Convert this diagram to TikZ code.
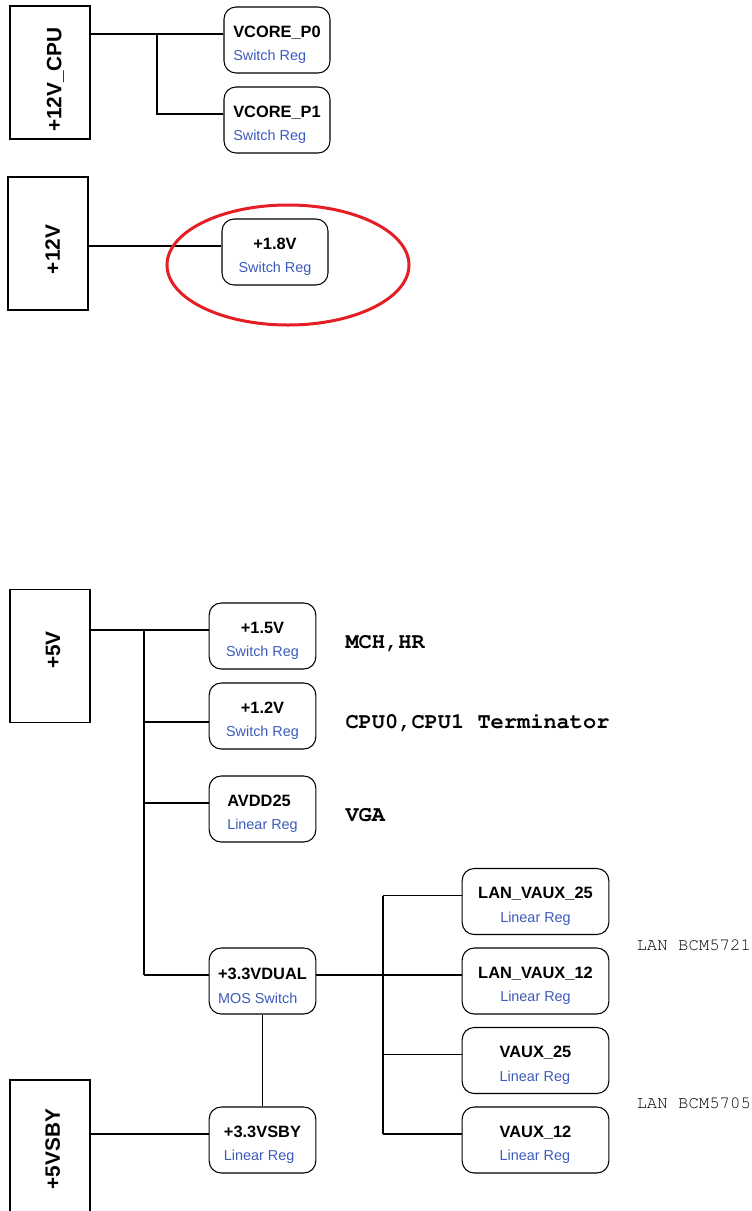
\documentclass[tikz,border=0pt]{standalone}
\usepackage[T1]{fontenc}
\usepackage{fontspec}
\setmainfont{Liberation Sans}
\usepackage{tikz}
\usepackage{xcolor}
\definecolor{regblue}{RGB}{60,90,185}
\definecolor{markred}{RGB}{228,30,36}
\newcommand{\regkind}[1]{{\color{regblue}\mdseries\fontsize{10.8}{12}\selectfont #1}}
\newcommand{\courier}{\fontencoding{T1}\fontfamily{pcr}\selectfont}

\begin{document}
\begin{tikzpicture}[x=0.75pt, y=-0.75pt, line width=0.8pt,
	power/.style={draw, minimum width=60pt, minimum height=99.75pt, inner sep=0pt},
	powerlabel/.style={rotate=90, inner sep=0pt, text depth=0pt, font=\fontsize{15.6}{18}\selectfont\bfseries},
	reg/.style={draw, rounded corners=9pt, minimum width=80pt, minimum height=49.5pt, inner sep=0pt, align=center, font=\fontsize{12.3}{17.5}\selectfont\bfseries},
	lanreg/.style={reg, minimum width=110pt},
	note/.style={anchor=west, inner sep=0pt, font=\fontsize{16.5}{18}\courier\bfseries},
	chip/.style={anchor=west, inner sep=0pt, font=\fontsize{13}{15}\courier}]
	\useasboundingbox (0,0) rectangle (751,1211);

	% +12V_CPU
	\node[power] (p12cpu) at (50,72.5) {};
	\node[powerlabel] (l12cpu) at (54,79.5) {+12V\_CPU};
	\node[reg, minimum width=79.5pt, align=left] (vcore0) at (277,40) {\rule{0pt}{15.6pt}VCORE\_P0\\\regkind{Switch Reg}};
	\node[reg, minimum width=79.5pt, align=left] (vcore1) at (277,120) {\rule{0pt}{15.6pt}VCORE\_P1\\\regkind{Switch Reg}};
	\coordinate (jcpu) at (157,0);
	\coordinate (t0) at ([yshift=4.5pt]vcore0.west);
	\coordinate (t1) at ([yshift=4.5pt]vcore1.west);
	\draw (p12cpu.east |- t0) -- (t0);
	\draw (t0 -| jcpu) |- (t1);

	% +12V
	\node[power] (p12) at (48,243.5) {};
	\node[powerlabel] (l12) at (52.5,249.5) {+12V};
	\node[reg, minimum width=79.5pt] (reg18) at (275,252) {\rule{0pt}{15.6pt}+1.8V\\\regkind{Switch Reg}};
	\coordinate (t2) at ([yshift=4.5pt]reg18.west);
	\draw (p12.east |- t2) -- (t2);
	\draw[markred, line width=2.25pt] (288,265) ellipse [x radius=90.75pt, y radius=45pt];

	% +5V
	\node[power] (p5) at (50,656) {};
	\node[powerlabel] (l5) at (53,650) {+5V};
	\node[reg] (reg15) at (262.5,636) {\rule{0pt}{15.6pt}+1.5V\\\regkind{Switch Reg}};
	\node[reg] (reg12) at (262.5,716) {\rule{0pt}{15.6pt}+1.2V\\\regkind{Switch Reg}};
	\node[reg, align=left] (avdd) at (262.5,809) {\rule{0pt}{15.6pt}AVDD25\\\regkind{Linear Reg}};
	\node[reg, align=left] (dual) at (262.5,981) {\rule{0pt}{15.6pt}+3.3VDUAL\\\regkind{MOS Switch}};
	\node[note] (n15) at (345,643) {MCH,HR};
	\node[note] (n12) at (345,722) {CPU0,CPU1 Terminator};
	\node[note] (navdd) at (345,815) {VGA};
	\coordinate (j5v) at (144,0);
	\coordinate (t3) at ([yshift=4.5pt]reg15.west);
	\coordinate (t4) at ([yshift=-4.5pt]reg12.west);
	\coordinate (t5) at ([yshift=4.5pt]avdd.west);
	\coordinate (t6) at ([yshift=4.5pt]dual.west);
	\draw (p5.east |- t3) -- (t3);
	\draw (t3 -| j5v) -- (t6 -| j5v);
	\draw (t4 -| j5v) -- (t4);
	\draw (t5 -| j5v) -- (t5);
	\draw (t6 -| j5v) -- (t6);

	% LAN regulators
	\node[lanreg] (lan25) at (535.5,901.5) {\rule{0pt}{15.6pt}LAN\_VAUX\_25\\\regkind{Linear Reg}};
	\node[lanreg] (lan12) at (535.5,981) {\rule{0pt}{15.6pt}LAN\_VAUX\_12\\\regkind{Linear Reg}};
	\node[lanreg, align=left] (vaux25) at (535.5,1060.5) {\rule{0pt}{15.6pt}VAUX\_25\\\regkind{Linear Reg}};
	\node[lanreg, align=left] (vaux12) at (535.5,1140) {\rule{0pt}{15.6pt}VAUX\_12\\\regkind{Linear Reg}};
	\node[chip] (c5721) at (636,945) {LAN BCM5721};
	\node[chip] (c5705) at (636,1103) {LAN BCM5705};
	\coordinate (jlan) at (383,0);
	\coordinate (t7) at ([yshift=4.5pt]dual.east);
	\coordinate (l1) at ([yshift=4.5pt]lan25.west);
	\coordinate (l2) at ([yshift=4.5pt]lan12.west);
	\coordinate (l3) at ([yshift=4.5pt]vaux25.west);
	\coordinate (l4) at ([yshift=4.5pt]vaux12.west);
	\draw (t7) -- (l2);
	\draw (l1 -| jlan) -- (l4 -| jlan);
	\draw (l1 -| jlan) -- (l1);
	\draw (l3 -| jlan) -- (l3);
	\draw (l4 -| jlan) -- (l4);

	% +5VSBY
	\node[power, minimum height=105pt] (p5sby) at (50,1150) {};
	\node[powerlabel] (l5sby) at (52.5,1149) {+5VSBY};
	\node[reg, align=left] (sby) at (262.5,1140) {\rule{0pt}{15.6pt}+3.3VSBY\\\regkind{Linear Reg}};
	\coordinate (t8) at ([yshift=4.5pt]sby.west);
	\draw (dual.south) -- (sby.north);
	\draw (p5sby.east |- t8) -- (t8);
\end{tikzpicture}
\end{document}
